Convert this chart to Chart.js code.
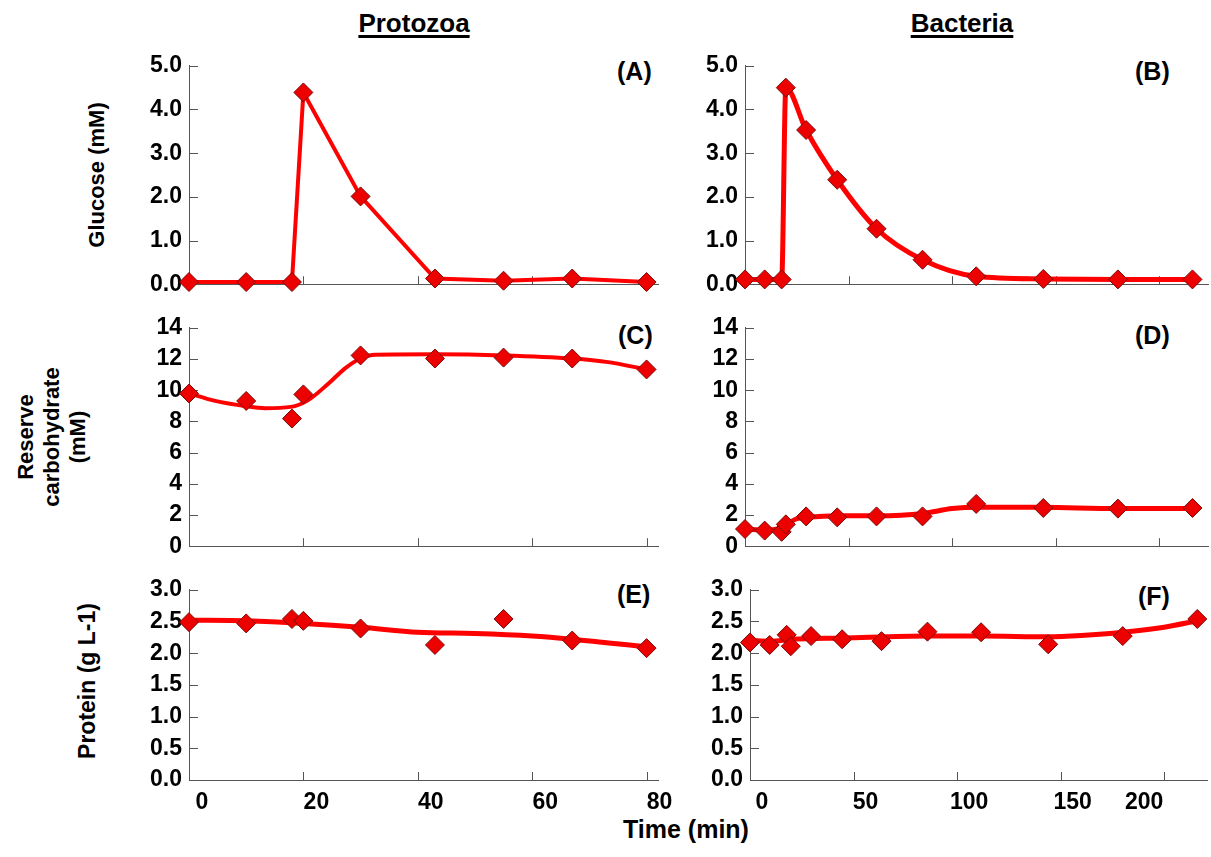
<!DOCTYPE html>
<html>
<head>
<meta charset="utf-8">
<script src="https://cdn.jsdelivr.net/npm/chart.js@4.4.1/dist/chart.umd.min.js"></script>
<style>
  body { margin: 0; background: #fff; }
  #wrap { position: relative; width: 1211px; height: 857px; overflow: hidden; font-family: 'Liberation Sans', Arial, sans-serif; font-weight: bold; color: #000; }
  .txt { position: absolute; white-space: nowrap; line-height: 30px; font-size: 25px; }
  .head { font-size: 26px; text-decoration: underline; text-decoration-thickness: 2.5px; text-underline-offset: 3px; transform: translateX(-50%); }
  .ytitle { position: absolute; white-space: nowrap; font-size: 22px; line-height: 26px; text-align: center; transform: translate(-50%, -50%) rotate(-90deg); }
</style>
</head>
<body>
<div id="wrap">
  <div class="txt head" style="left:414px;top:8px">Protozoa</div>
  <div class="txt head" style="left:962px;top:8px">Bacteria</div>
  <div class="txt" style="left:623px;top:814px">Time (min)</div>

  <div class="ytitle" style="left:97px;top:175px">Glucose (mM)</div>
  <div class="ytitle" style="left:52px;top:437px">Reserve<br>carbohydrate<br>(mM)</div>
  <div class="ytitle" style="left:87px;top:681px;font-size:23px">Protein (g L-1)</div>

  <div class="txt" style="left:617px;top:56px">(A)</div>
  <div class="txt" style="left:1135px;top:56px">(B)</div>
  <div class="txt" style="left:618px;top:320px">(C)</div>
  <div class="txt" style="left:1135px;top:320px">(D)</div>
  <div class="txt" style="left:617px;top:579px">(E)</div>
  <div class="txt" style="left:1138px;top:581px">(F)</div>
</div>
<script>
// sampling times (min)
const protozoaTime = [0, 10, 18, 20, 30, 43, 55, 67, 80];
const bacteriaTime = [0, 9.5, 17.7, 19.7, 29.5, 44.5, 63.5, 85.7, 111.6, 144, 180, 216];

// measured values
const protozoaGlucose = [0.05, 0.05, 0.05, 4.39, 2.01, 0.13, 0.08, 0.13, 0.05];
const protozoaReserve = [9.79, 9.31, 8.18, 9.73, 12.23, 12.03, 12.09, 12.03, 11.33];
const protozoaProtein = [2.49, 2.47, 2.54, 2.51, 2.39, 2.13, 2.54, 2.20, 2.08];

const bacteriaGlucose = [0.11, 0.11, 0.11, 4.50, 3.53, 2.39, 1.27, 0.56, 0.18, 0.12, 0.11, 0.11];
const bacteriaReserve = [1.10, 1.00, 0.92, 1.40, 1.91, 1.85, 1.91, 1.91, 2.71, 2.45, 2.41, 2.45];
const bacteriaProtein = [2.17, 2.13, 2.29, 2.11, 2.27, 2.22, 2.19, 2.34, 2.33, 2.14, 2.27, 2.54];

// fitted trend lines
const protozoaReserveFitTime = [0, 4.4, 10, 13.3, 17.8, 20.7, 24.4, 27.4, 30, 32.6, 43, 55, 67, 73.3, 80];
const protozoaReserveFit = [9.8, 9.33, 8.97, 8.85, 8.93, 9.33, 10.43, 11.43, 12.03, 12.27, 12.3, 12.23, 12.03, 11.8, 11.33];
const protozoaProteinFitTime = [0, 10, 20, 30, 40, 50, 60, 67, 80];
const protozoaProteinFit = [2.52, 2.51, 2.47, 2.41, 2.33, 2.31, 2.27, 2.22, 2.10];
const bacteriaReserveFitTime = [0, 10, 17.7, 20, 25, 30, 45, 64, 86, 100, 112, 144, 180, 216];
const bacteriaReserveFit = [1.10, 1.04, 1.2, 1.4, 1.76, 1.85, 1.95, 1.95, 2.1, 2.41, 2.5, 2.49, 2.41, 2.41];
const bacteriaProteinFitTime = [0, 10, 20, 45, 86, 112, 144, 160, 180, 200, 216];
const bacteriaProteinFit = [2.20, 2.19, 2.22, 2.24, 2.27, 2.27, 2.26, 2.28, 2.33, 2.41, 2.51];

// tick labels
const protozoaTicks = [0, 20, 40, 60, 80];
const bacteriaTicks = [0, 50, 100, 150, 200];
const glucoseTicks = [0, 1, 2, 3, 4, 5];
const reserveTicks = [0, 2, 4, 6, 8, 10, 12, 14];
const proteinTicks = [0, 0.5, 1, 1.5, 2, 2.5, 3];

Chart.defaults.font.family = "'Liberation Sans', Arial, sans-serif";

const RED = '#ff0000';
const wrap = document.getElementById('wrap');

function pts(xs, ys) {
  return xs.map((x, i) => ({ x: x, y: ys[i] }));
}

function markers(xs, ys, line, lw, smooth) {
  return {
    data: pts(xs, ys),
    showLine: line,
    borderColor: RED,
    borderWidth: lw,
    tension: smooth ? 0.4 : 0,
    cubicInterpolationMode: smooth ? 'monotone' : 'default',
    pointStyle: 'rectRot',
    pointRadius: 9.5,
    pointBackgroundColor: '#ec0000',
    pointBorderColor: '#7a0a0a',
    pointBorderWidth: 1,
    clip: false
  };
}

function fit(xs, ys, lw) {
  return {
    data: pts(xs, ys),
    showLine: true,
    borderColor: RED,
    borderWidth: lw,
    tension: 0.4,
    cubicInterpolationMode: 'monotone',
    pointRadius: 0,
    clip: false
  };
}

// small tick marks drawn inside the plot, like the original
const innerTicks = {
  id: 'innerTicks',
  beforeDatasetsDraw(chart) {
    const { ctx, chartArea: a, scales: { x, y } } = chart;
    ctx.save();
    ctx.strokeStyle = '#555';
    ctx.lineWidth = 1;
    ctx.beginPath();
    x.ticks.forEach(t => {
      if (t.value === x.min) return;
      const px = Math.round(x.getPixelForValue(t.value)) + 0.5;
      ctx.moveTo(px, a.bottom);
      ctx.lineTo(px, a.bottom - 8);
    });
    y.ticks.forEach(t => {
      if (t.value === y.min) return;
      const py = Math.round(y.getPixelForValue(t.value)) + 0.5;
      ctx.moveTo(a.left, py);
      ctx.lineTo(a.left + 9, py);
    });
    ctx.stroke();
    ctx.restore();
  }
};

const L = 80, T = 14, R = 18;

function panel(box, xt, xMax, xOff, xLabel, showX, yt, yMax, yLabel, datasets) {
  const bottom = showX ? 50 : 14;
  const w = L + box.r - box.l + R;
  const h = T + box.b - box.t + bottom;
  const c = document.createElement('canvas');
  c.width = w;
  c.height = h;
  c.style.cssText = `position:absolute;left:${box.l - L}px;top:${box.t - T}px;width:${w}px;height:${h}px`;
  wrap.appendChild(c);

  new Chart(c, {
    type: 'scatter',
    data: { datasets: datasets },
    options: {
      responsive: false,
      animation: false,
      events: [],
      layout: { padding: { top: T, right: R, left: 0, bottom: 0 } },
      plugins: { legend: { display: false }, tooltip: { enabled: false } },
      scales: {
        x: {
          type: 'linear', min: 0, max: xMax,
          afterFit: s => { s.height = bottom; },
          afterBuildTicks: s => { s.ticks = xt.map(v => ({ value: v })); },
          grid: { display: false, drawTicks: false },
          border: { color: '#555', width: 1 },
          ticks: {
            display: showX, padding: 9, labelOffset: xOff, autoSkip: false, maxRotation: 0,
            color: '#000', font: { size: 23, weight: 'bold' },
            callback: xLabel
          }
        },
        y: {
          min: 0, max: yMax,
          afterFit: s => { s.width = L; },
          afterBuildTicks: s => { s.ticks = yt.map(v => ({ value: v })); },
          grid: { display: false, drawTicks: false },
          border: { color: '#555', width: 1 },
          ticks: {
            padding: 7, autoSkip: false,
            color: '#000', font: { size: 23, weight: 'bold' },
            callback: yLabel
          }
        }
      }
    },
    plugins: [innerTicks]
  });
}

const oneDec = v => v.toFixed(1);
const whole = v => String(v);
const leftX = v => String(v);
const rightX = v => v === 200 ? '200' + ' '.repeat(10) : String(v);

const colL = { l: 189, r: 658 };
const colRTop = { l: 745, r: 1208 }, colR = { l: 750, r: 1208 };
const rows = [{ t: 59, b: 291 }, { t: 321, b: 553 }, { t: 583, b: 780 }];

// (A) protozoa glucose
panel({ ...colL, ...rows[0] }, protozoaTicks, 82, 13, leftX, false, glucoseTicks, 5, oneDec,
  [markers(protozoaTime, protozoaGlucose, true, 4, false)]);
// (B) bacteria glucose
panel({ ...colRTop, ...rows[0] }, bacteriaTicks, 223.5, 12, rightX, false, glucoseTicks, 5, oneDec,
  [markers(bacteriaTime, bacteriaGlucose, true, 5, true)]);
// (C) protozoa reserve carbohydrate
panel({ ...colL, ...rows[1] }, protozoaTicks, 82, 13, leftX, false, reserveTicks, 14, whole,
  [markers(protozoaTime, protozoaReserve, false, 0, false), fit(protozoaReserveFitTime, protozoaReserveFit, 4)]);
// (D) bacteria reserve carbohydrate
panel({ ...colRTop, ...rows[1] }, bacteriaTicks, 223.5, 12, rightX, false, reserveTicks, 14, whole,
  [markers(bacteriaTime, bacteriaReserve, false, 0, false), fit(bacteriaReserveFitTime, bacteriaReserveFit, 5)]);
// (E) protozoa protein
panel({ ...colL, ...rows[2] }, protozoaTicks, 82, 13, leftX, true, proteinTicks, 3, oneDec,
  [markers(protozoaTime, protozoaProtein, false, 0, false), fit(protozoaProteinFitTime, protozoaProteinFit, 5)]);
// (F) bacteria protein
panel({ ...colR, ...rows[2] }, bacteriaTicks, 221, 12, rightX, true, proteinTicks, 3, oneDec,
  [markers(bacteriaTime, bacteriaProtein, false, 0, false), fit(bacteriaProteinFitTime, bacteriaProteinFit, 5)]);
</script>
</body>
</html>
